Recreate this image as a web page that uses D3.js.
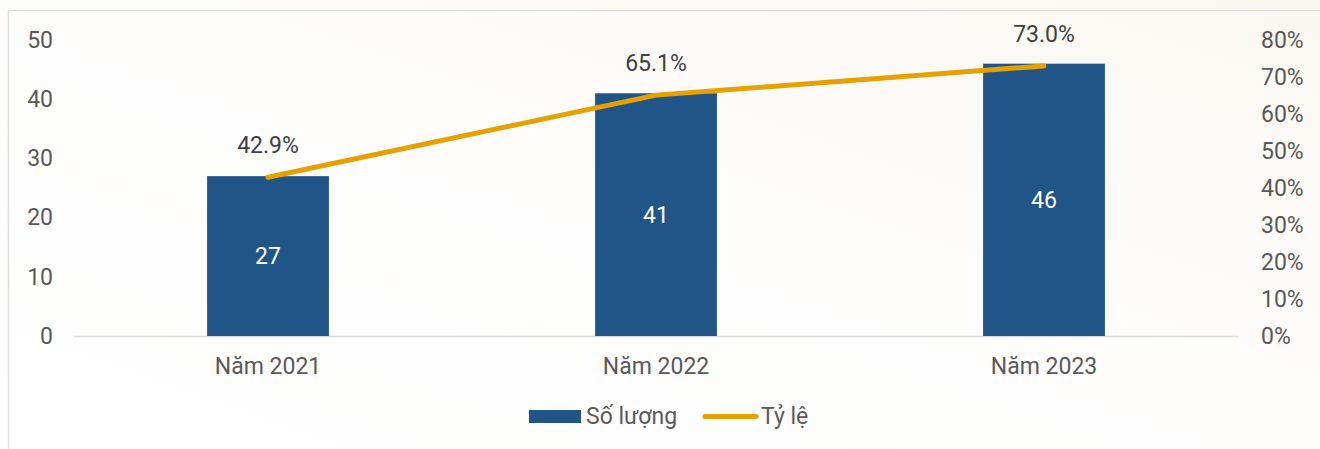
<!DOCTYPE html>
<html>
<head>
<meta charset="utf-8">
<script src="https://cdn.jsdelivr.net/npm/d3@7"></script>
<style>
  body { margin: 0; background: #fff; }
  svg text { font-family: Roboto, "Noto Sans", sans-serif; }
</style>
</head>
<body>
<div id="chart"></div>
<script>
// data
var years = ["Năm 2021", "Năm 2022", "Năm 2023"];
var counts = [27, 41, 46];
var rates = [42.9, 65.1, 73.0];
var countTicks = [0, 10, 20, 30, 40, 50];
var rateTicks = [0, 10, 20, 30, 40, 50, 60, 70, 80];

var W = 1320, H = 449;
var fs = 23;
var svg = d3.select("#chart").append("svg")
    .attr("width", W)
    .attr("height", H);

// soft background
var grad = svg.append("defs").append("linearGradient")
    .attr("id", "bg").attr("x1", "0").attr("y1", "1").attr("x2", "1").attr("y2", "0");
grad.append("stop").attr("offset", "0%").attr("stop-color", "#ffffff");
grad.append("stop").attr("offset", "60%").attr("stop-color", "#fdfcfb");
grad.append("stop").attr("offset", "100%").attr("stop-color", "#faf7f1");
svg.append("rect").attr("width", W).attr("height", H).attr("fill", "url(#bg)");

// frame (top and left edges visible)
svg.append("line").attr("x1", 8).attr("x2", W).attr("y1", 10.5).attr("y2", 10.5)
    .attr("stroke", "#dedede").attr("stroke-width", 1.5);
svg.append("line").attr("x1", 8.5).attr("x2", 8.5).attr("y1", 10).attr("y2", H)
    .attr("stroke", "#dedede").attr("stroke-width", 1.5);

var x0 = 74, x1 = 1238, yTop = 40, yBase = 336;

var x = d3.scaleBand()
    .domain(years)
    .range([x0, x1])
    .paddingInner(0.686)
    .paddingOuter(0.343);

var y = d3.scaleLinear().domain([0, 50]).range([yBase, yTop]);
var y2 = d3.scaleLinear().domain([0, 80]).range([yBase, yTop]);

// left axis
var leftAxis = svg.append("g")
    .attr("transform", "translate(53,0)")
    .call(d3.axisLeft(y).tickValues(countTicks).tickSize(0).tickPadding(0));
leftAxis.select(".domain").remove();
leftAxis.selectAll("text").attr("font-size", fs).attr("fill", "#595959")
    .attr("font-family", "Roboto, sans-serif");

// right axis
var rightAxis = svg.append("g")
    .attr("transform", "translate(1261,0)")
    .call(d3.axisRight(y2).tickValues(rateTicks).tickSize(0).tickPadding(0)
        .tickFormat(function (d) { return d + "%"; }));
rightAxis.select(".domain").remove();
rightAxis.selectAll("text").attr("font-size", fs).attr("fill", "#595959")
    .attr("font-family", "Roboto, sans-serif");

// baseline
svg.append("line")
    .attr("x1", x0).attr("x2", x1)
    .attr("y1", yBase + 0.5).attr("y2", yBase + 0.5)
    .attr("stroke", "#d9d9d9").attr("stroke-width", 1.5);

// category labels
svg.append("g").selectAll("text")
    .data(years).enter().append("text")
    .attr("x", function (d) { return x(d) + x.bandwidth() / 2; })
    .attr("y", 374)
    .attr("text-anchor", "middle")
    .attr("font-size", fs)
    .attr("fill", "#595959")
    .text(function (d) { return d; });

// bars
svg.append("g").selectAll("rect")
    .data(counts).enter().append("rect")
    .attr("x", function (d, i) { return x(years[i]); })
    .attr("y", function (d) { return y(d); })
    .attr("width", x.bandwidth())
    .attr("height", function (d) { return yBase - y(d); })
    .attr("fill", "#215587");

svg.append("g").selectAll("text")
    .data(counts).enter().append("text")
    .attr("x", function (d, i) { return x(years[i]) + x.bandwidth() / 2; })
    .attr("y", function (d) { return (y(d) + yBase) / 2 + 8; })
    .attr("text-anchor", "middle")
    .attr("font-size", fs)
    .attr("fill", "#ffffff")
    .text(function (d) { return d; });

// rate line
var line = d3.line()
    .x(function (d, i) { return x(years[i]) + x.bandwidth() / 2; })
    .y(function (d) { return y2(d); });

svg.append("path")
    .datum(rates)
    .attr("d", line)
    .attr("fill", "none")
    .attr("stroke", "#e6a100")
    .attr("stroke-width", 5)
    .attr("stroke-linecap", "round")
    .attr("stroke-linejoin", "round");

svg.append("g").selectAll("text")
    .data(rates).enter().append("text")
    .attr("x", function (d, i) { return x(years[i]) + x.bandwidth() / 2; })
    .attr("y", function (d) { return y2(d) - 24; })
    .attr("text-anchor", "middle")
    .attr("font-size", fs)
    .attr("fill", "#404040")
    .text(function (d) { return d.toFixed(1) + "%"; });

// legend
var lg = svg.append("g");
lg.append("rect").attr("x", 529).attr("y", 410).attr("width", 52).attr("height", 13)
    .attr("fill", "#215587");
lg.append("text").attr("x", 586).attr("y", 424).attr("font-size", fs).attr("fill", "#595959")
    .text("Số lượng");
lg.append("line").attr("x1", 705).attr("x2", 756).attr("y1", 416.5).attr("y2", 416.5)
    .attr("stroke", "#e6a100").attr("stroke-width", 5).attr("stroke-linecap", "round");
lg.append("text").attr("x", 761).attr("y", 424).attr("font-size", fs).attr("fill", "#595959")
    .text("Tỷ lệ");
</script>
</body>
</html>
